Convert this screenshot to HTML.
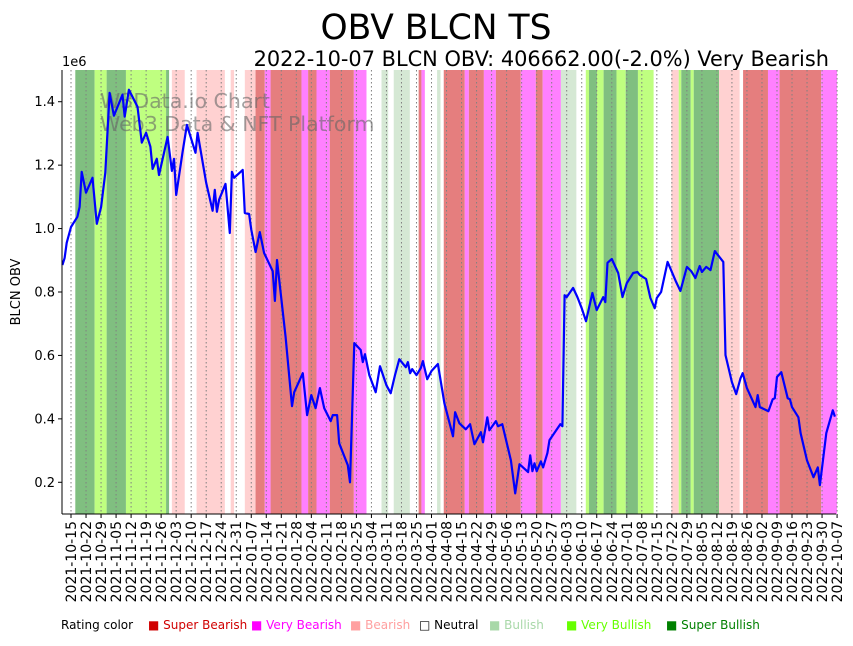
<!DOCTYPE html>
<html><head><meta charset="utf-8"><style>
body{margin:0;background:#fff;font-family:"Liberation Sans","DejaVu Sans",sans-serif}
svg text{font-family:"DejaVu Sans","Liberation Sans",sans-serif}
</style></head><body>
<svg id="chart" width="853" height="641" xmlns="http://www.w3.org/2000/svg">
<text x="436" y="39" font-size="34.5" text-anchor="middle">OBV BLCN TS</text>
<text x="829" y="66" font-size="20.9" text-anchor="end">2022-10-07 BLCN OBV: 406662.00(-2.0%) Very Bearish</text>
<g id="bands"></g>
<g id="grid"></g>
<g id="wm">
<text x="100" y="108" font-size="20.5" fill="#666" fill-opacity="0.6">W3Data.io Chart</text>
<text x="100" y="131" font-size="20.5" fill="#666" fill-opacity="0.6">Web3 Data &amp; NFT Platform</text>
</g>
<path id="line" fill="none" stroke="#0000ff" stroke-width="2.2" stroke-linejoin="round"/>
<line x1="62" y1="70" x2="62" y2="514" stroke="#000"/>
<line x1="62" y1="514" x2="836" y2="514" stroke="#000"/>
<g id="yt"></g>
<g id="xt"></g>
<text x="62" y="66" font-size="13">1e6</text>
<text transform="translate(20,292) rotate(-90)" font-size="13" text-anchor="middle">BLCN OBV</text>
<g id="legend" font-size="12"></g>
</svg>
<script>
const ratingNames=["Super Bearish","Very Bearish","Bearish","Neutral","Bullish","Very Bullish","Super Bullish"];
const ratingFill=["#e57e7e","#ff80ff","#ffd1d1","#ffffff","#d5e8d4","#bfff80","#80bf80"];
const ratingText=["#d00000","#ff00ff","#ffa0a0","#000000","#a8d8a8","#66ff00","#008000"];
const bandStart=[2,11,16.6,25.6,32.4,44.3,47,58.5,74.4,81,86,90.3,93,107.4,110.5,114.4,120.6,131.8,144.7,150.4,162,163.3,170.6,173.7,183.5,185.4,192.4,198,209.6,216.6,219.8,228.3,239.9,241.4,245.1,248.2,254.2,258.5,264.2,279.8,283.2,284.4,288.8,290.2,302,313.2,324.8,330.2,349.6];
const bandEnd=[11,16.6,25.6,32.4,44.3,45.7,53,71.7,76,86,90.3,93,107.4,110.5,114.4,120.6,131.8,137.7,147.8,157.9,163.3,164.9,172.2,183.5,185.4,192.4,198,209.6,216.6,219.8,228.3,235.5,241.4,245.1,248.2,254.2,258.5,264.2,271.5,283.2,284.4,288.8,290.2,302,311.6,324.8,330.2,349.6,357];
const bandRating=[6,5,6,5,5,6,2,2,2,2,0,1,0,1,0,1,0,1,4,4,0,1,4,0,1,0,1,0,1,0,1,4,5,6,5,6,5,6,5,2,5,6,5,6,2,0,1,0,1];
const days=[-4,-3,-2,0,3,4,5,7,10,12,14,16,18,20,24,25,27,31,33,35,37,38,40,41,45,47,48,49,52,54,58,59,63,66,67,68,69,72,74,75,76,80,81,83,84,86,88,90,94,95,96,100,103,104,108,110,112,114,116,118,121,122,124,125,129,130,132,135,136,137,139,142,144,147,149,151,153,156,157,158,159,161,163,164,166,168,171,174,178,179,181,184,186,188,191,192,194,195,198,199,201,205,207,209,213,214,215,216,217,219,220,222,223,228,229,230,231,234,236,238,240,243,245,248,249,250,252,255,257,259,262,264,265,268,270,272,273,275,278,282,284,287,289,291,293,294,296,298,300,304,305,308,310,312,313,315,319,320,321,325,327,328,329,331,334,335,336,339,340,343,346,348,349,352,355,356];
const obv=[.885,.907,.955,1.005,1.037,1.068,1.179,1.113,1.160,1.015,1.068,1.176,1.428,1.356,1.422,1.353,1.438,1.384,1.271,1.302,1.258,1.188,1.220,1.169,1.289,1.182,1.220,1.106,1.242,1.327,1.239,1.302,1.144,1.056,1.122,1.053,1.091,1.141,.986,1.179,1.160,1.185,1.049,1.046,.996,.926,.989,.923,.866,.772,.901,.658,.440,.484,.544,.412,.475,.434,.497,.434,.393,.412,.412,.323,.254,.200,.639,.617,.579,.604,.538,.484,.566,.506,.481,.538,.588,.563,.579,.544,.557,.538,.560,.582,.525,.551,.573,.449,.345,.421,.386,.367,.383,.320,.358,.326,.405,.364,.393,.377,.383,.269,.165,.257,.232,.285,.235,.260,.235,.266,.247,.292,.333,.383,.377,.790,.784,.813,.784,.749,.708,.797,.743,.784,.768,.892,.904,.860,.784,.828,.860,.863,.854,.841,.781,.749,.781,.800,.895,.832,.803,.879,.866,.844,.882,.863,.879,.869,.929,.895,.601,.516,.478,.528,.544,.497,.437,.475,.437,.424,.462,.465,.532,.547,.465,.462,.437,.405,.355,.269,.216,.247,.191,.355,.427,.407];
const yTicks=[0.2,0.4,0.6,0.8,1.0,1.2,1.4];
const xTickLabels=[];
const NS="http://www.w3.org/2000/svg";
const X0=62,X1=836,Y0=514,Y1=70,DMIN=-4.2,DMAX=356.5,VMIN=0.1,VMAX=1.5;
function xs(d){return X0+(d-DMIN)/(DMAX-DMIN)*(X1-X0);}
function ys(v){return Y0-(v-VMIN)/(VMAX-VMIN)*(Y0-Y1);}
function mk(t,a,p){const e=document.createElementNS(NS,t);for(const k in a)e.setAttribute(k,a[k]);p.appendChild(e);return e;}
const bandsG=document.getElementById('bands');
for(let i=0;i<bandStart.length;i++){
 const r=mk('rect',{x:xs(bandStart[i]),y:Y1,width:Math.max(0,xs(bandEnd[i])-xs(bandStart[i])),height:Y0-Y1,fill:ratingFill[bandRating[i]]},bandsG);
 
 
}
const base=new Date(Date.UTC(2021,9,15));
for(let w=0;w<=51;w++){const dt=new Date(base.getTime()+w*7*864e5);xTickLabels.push(dt.toISOString().slice(0,10));}
const gridG=document.getElementById('grid'),xt=document.getElementById('xt');
xTickLabels.forEach((lab,w)=>{
 const x=xs(w*7);
 const g=mk('line',{x1:x,y1:Y1,x2:x,y2:Y0,stroke:'#808080','stroke-width':1,'stroke-dasharray':'1.5,2.5'},gridG);
 
 
 mk('line',{x1:x,y1:Y0,x2:x,y2:Y0+4,stroke:'#000'},xt);
 const t=mk('text',{transform:`translate(${x+5},${Y0+7}) rotate(-90)`,'font-size':14,'text-anchor':'end'},xt);
 t.textContent=lab;
 
 
});
const yt=document.getElementById('yt');
yTicks.forEach(v=>{
 const y=ys(v);
 mk('line',{x1:X0-4,y1:y,x2:X0,y2:y,stroke:'#000'},yt);
 const t=mk('text',{x:X0-7,y:y+4.5,'font-size':13,'text-anchor':'end'},yt);
 t.textContent=v.toFixed(1);
 
 
});
let d='';
days.forEach((dd,i)=>{d+=(i?'L':'M')+xs(dd).toFixed(1)+','+ys(obv[i]).toFixed(1);});
document.getElementById('line').setAttribute('d',d);
const lg=document.getElementById('legend');
const lt=mk('text',{x:61,y:629},lg);lt.textContent='Rating color';


const lx=[148,251,350,419,489,566,666];
ratingNames.forEach((n,i)=>{
 const t=mk('text',{x:lx[i],y:629,fill:ratingText[i]},lg);
 t.textContent=(i===3?'\u25A1 ':'\u25A0 ')+n;
 
 
});
</script>
</body></html>
